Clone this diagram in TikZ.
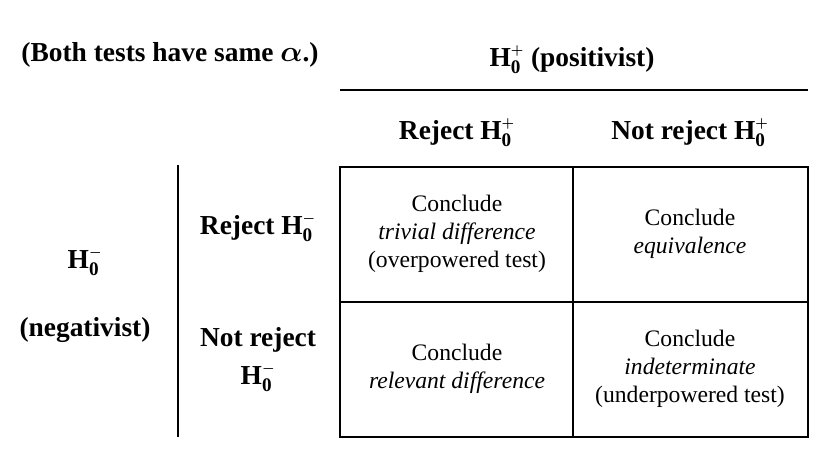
\documentclass[tikz,border=0pt]{standalone}
\usepackage{amsmath,amssymb,bm}
\usepackage{fontspec}
\setmainfont{Liberation Serif}
\begin{document}
\begin{tikzpicture}[x=0.025cm,y=-0.025cm,
  txt/.style={font=\fontsize{16.8}{20}\selectfont,align=center,inner sep=0},
  hd/.style={font=\fontsize{19.5}{23}\selectfont\bfseries,align=center,inner sep=0},
  ln/.style={line width=1.2pt}]
\useasboundingbox (0,0) rectangle (820,450);
\newcommand{\Hp}{H$_{\mathbf{0}}^{\scriptscriptstyle\bm{+}}$}
\newcommand{\Hm}{H$_{\mathbf{0}}^{\scriptscriptstyle\bm{-}}$}
\node[hd] (t) at (170,55) {(Both tests have same $\bm{\alpha}$.)};
\node[hd] (pos) at (572,60) {\Hp{} (positivist)};
\coordinate (l1) at (340,90); \coordinate (l2) at (808,90);
\draw[ln] (l1) -- (l2);
\node[hd] (c1) at (457,133) {Reject \Hp};
\node[hd] (c2) at (690,133) {Not reject \Hp};
\coordinate (v1) at (178,165); \coordinate (v2) at (178,437);
\draw[ln] (v1) -- (v2);
\node[hd] (neg1) at (85,262) {\Hm};
\node[hd] (neg2) at (85,330) {(negativist)};
\node[hd] (r1) at (258,228) {Reject \Hm};
\node[hd] (r2) at (258,360) {Not reject\\[4pt]\Hm};
\draw[ln] (340,167) rectangle (808,437);
\draw[ln] (573,167) -- (573,437);
\draw[ln] (340,302) -- (808,302);
\node[txt] (a) at (457,234) {Conclude\\\textit{trivial difference}\\(overpowered test)};
\node[txt] (b) at (690,234) {Conclude\\\textit{equivalence}};
\node[txt] (c) at (457,369) {Conclude\\\textit{relevant difference}};
\node[txt] (d) at (690,369) {Conclude\\\textit{indeterminate}\\(underpowered test)};
\end{tikzpicture}
\end{document}
